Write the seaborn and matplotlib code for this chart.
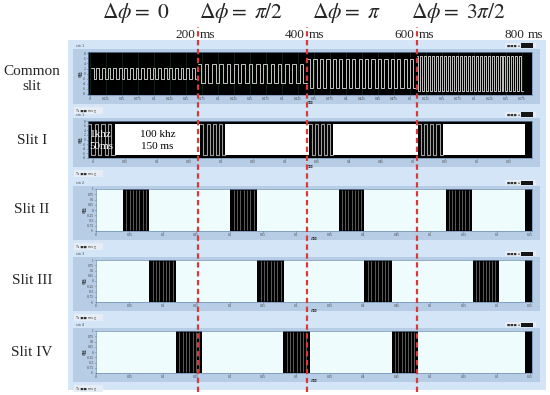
import matplotlib
matplotlib.use("Agg")
import numpy as np
import matplotlib.pyplot as plt
import seaborn as sns
from matplotlib.patches import Rectangle
from matplotlib.transforms import blended_transform_factory

# ---- values ----
phase_labels = [r"$\Delta\phi{=}\ 0$", r"$\Delta\phi{=}\ \pi/2$", r"$\Delta\phi{=}\ \pi$", r"$\Delta\phi{=}\ 3\pi/2$"]
time_marks = [200, 400, 600, 800]          # ms, top axis labels
dashed_at = [200, 400, 600]                # ms, red dashed separators
row_labels = ["Common\nslit", "Slit I", "Slit II", "Slit III", "Slit IV"]

# common slit: square wave, one segment per phase step
common_start = [5, 200, 400, 600]
common_end = [200, 400, 600, 795]
common_amp = [2.1, 3.8, 5.7, 7.0]
common_cycles = [19, 15, 17, 27]

# slit I: 1 kHz bursts (drawn as square wave) and 100 kHz blocks (white)
slit1_slow_start = [0, 205, 403, 602]
slit1_slow_end = [49, 251, 448, 648]
slit1_slow_cycles = 4
slit1_fast_start = [49, 251, 448, 648]
slit1_fast_end = [205, 403, 602, 798]

# slits II-IV: burst windows (ms)
slit2_start = [64, 260, 458, 653, 798]
slit2_end = [112, 309, 505, 701, 813]
slit3_start = [112, 309, 505, 703, 798]
slit3_end = [161, 358, 555, 750, 813]
slit4_start = [161, 357, 555, 798]
slit4_end = [209, 405, 602, 813]

common_yticks = [-8, -6, -4, -2, 0, 2, 4, 6, 8]
slit_yticks = [-1, -0.75, -0.5, -0.25, 0, 0.25, 0.5, 0.75, 1]

# ---- style ----
sns.set_theme(style="white")
plt.rcParams["font.family"] = ["Liberation Serif", "Noto Sans CJK SC", "DejaVu Sans"]
plt.rcParams["mathtext.fontset"] = "stix"

W, H = 550, 395
K = 109.5 / 200.0   # px per ms
X0 = 88             # px of t = 0
RIGHT = 532
RED = "#d83a3a"
PANEL = "#d3e5f7"
FRAME = "#b7cde6"
TINY = 2.4

fig = plt.figure(figsize=(5.5, 3.95), dpi=100)
fig.patch.set_facecolor("white")


def box(x0, y0, x1, y1):
    return [x0 / W, 1 - y1 / H, (x1 - x0) / W, (y1 - y0) / H]


def rect(x0, y0, x1, y1, color, z=-1):
    fig.add_artist(Rectangle((x0 / W, 1 - y1 / H), (x1 - x0) / W, (y1 - y0) / H,
                             transform=fig.transFigure, color=color, lw=0, zorder=z))


def ms(px):
    return (px - X0) / K


def square(a, b, n, amp):
    edges = np.linspace(a, b, 2 * n + 1)
    x = np.repeat(edges, 2)[1:-1]
    lev = np.where(np.arange(2 * n) % 2 == 0, amp, -amp)
    return x, np.repeat(lev, 2)


rect(68, 40, 546, 390, PANEL, z=-3)

layout = [(88, 52, 95), (88, 121, 158), (96, 189, 231), (96, 260, 302), (96, 331, 373)]
axes = []
for i, (left, top, bottom) in enumerate(layout):
    rect(73, top - 3, 540, bottom + 9, FRAME, z=-2)
    rect(74, bottom + 12, 103, bottom + 19, "#e6edf5", z=-1)
    fig.text(76 / W, 1 - (bottom + 15.5) / H, "Ts \u25a0\u25a0 ms \u25af", fontsize=TINY, color="#333333",
             va="center", family="DejaVu Sans")
    rect(505, top - 9, 536, top - 4, "#e6edf5", z=-1)
    rect(521, top - 8.5, 533, top - 4.5, "#151515", z=-0.5)
    fig.text(507 / W, 1 - (top - 6.5) / H, "\u25a0\u25a0\u25a0 \u25ab", fontsize=TINY, color="#333333",
             va="center", family="DejaVu Sans")
    fig.text(76 / W, 1 - (top - 6) / H, "sin %d" % max(i, 1), fontsize=TINY, color="#444444", va="center",
             family="DejaVu Sans")

    ax = fig.add_axes(box(left, top, RIGHT, bottom))
    ax.set_xlim(ms(left), ms(RIGHT))
    for s in ax.spines.values():
        s.set_color("#6d8db0")
        s.set_linewidth(0.5)
    ax.tick_params(labelsize=TINY, length=1, width=0.4, pad=0.6, colors="#333333",
                   left=True, bottom=True)
    axes.append(ax)

# common slit
ax = axes[0]
ax.set_facecolor("black")
ax.set_ylim(-8.6, 8.6)
ax.set_yticks(common_yticks)
ax.set_yticklabels([str(v) for v in common_yticks])
cx = [ms(90 + 16 * j) for j in range(28)]
ax.set_xticks(cx)
ax.set_xticklabels(["%g" % (0.025 * j) for j in range(28)])
ax.grid(True, axis="x", color="#1d3b22", lw=0.4)
for a, b, amp, n in zip(common_start, common_end, common_amp, common_cycles):
    x, y = square(a, b, n, amp)
    sns.lineplot(x=x, y=y, ax=ax, color="#c4c4c4", lw=0.7, sort=False, estimator=None)

# slit I
ax = axes[1]
ax.set_facecolor("black")
ax.set_ylim(-8.2, 8.2)
ax.set_yticks(common_yticks)
ax.set_yticklabels([str(v) for v in common_yticks])
sx = [ms(93 + 32 * j) for j in range(14)]
ax.set_xticks(sx)
ax.set_xticklabels(["%g" % (0.05 * j) for j in range(14)])
for a, b in zip(slit1_fast_start, slit1_fast_end):
    ax.fill_between([a, b], -7, 7, color="white", lw=0)
for a, b in zip(slit1_slow_start, slit1_slow_end):
    x, y = square(a, b, slit1_slow_cycles, 7)
    sns.lineplot(x=x, y=y, ax=ax, color="#9e9e9e", lw=0.8, sort=False, estimator=None)
ax.text(3, 2.3, "1khz", color="white", fontsize=8, va="center", ha="left")
ax.text(3, -3.3, "50ms", color="white", fontsize=8, va="center", ha="left")
ax.text(127, 2.3, "100 khz", color="black", fontsize=8, va="center", ha="center")
ax.text(127, -3.3, "150 ms", color="black", fontsize=8, va="center", ha="center")

# slits II-IV
for ax, starts, ends in zip(axes[2:], [slit2_start, slit3_start, slit4_start],
                            [slit2_end, slit3_end, slit4_end]):
    ax.set_facecolor("#effcfd")
    ax.set_ylim(-1.0, 1.0)
    ax.set_yticks(slit_yticks)
    ax.set_yticklabels(["%g" % v for v in slit_yticks])
    tx = [ms(96 + 33.4 * j) for j in range(14)]
    ax.set_xticks(tx)
    ax.set_xticklabels(["%g" % (0.05 * j) for j in range(14)])
    for a, b in zip(starts, ends):
        ax.axvspan(a, b, color="black", lw=0)
        if b - a > 20:
            ax.vlines(np.linspace(a, b, 9)[1:-1], -0.97, 0.97, color="#8c8c8c", lw=0.45)

for ax in axes:
    ax.set_ylabel("幅值", fontsize=TINY, labelpad=0.5, family="Noto Sans CJK SC")
    ax.set_xlabel("时间", fontsize=TINY, labelpad=0.2, family="Noto Sans CJK SC")

# overlay: dashed separators and time marks
ov = fig.add_axes(box(X0, 27, RIGHT, 392))
ov.set_xlim(ms(X0), ms(RIGHT))
ov.set_ylim(0, 1)
ov.axis("off")
ov.patch.set_alpha(0)
ov.set_zorder(5)
for t in dashed_at:
    ov.axvline(t, color=RED, lw=1.6, ls=(0, (2.4, 1.6)))
tr = blended_transform_factory(ov.transData, fig.transFigure)
for t in time_marks:
    ov.text(t - 3.5, 1 - 35 / H, "%d" % t, transform=tr, ha="right", va="center", fontsize=9.5)
    ov.text(t + 3.5, 1 - 35 / H, "ms", transform=tr, ha="left", va="center", fontsize=9.5)

for lab, xc in zip(phase_labels, [136, 241, 346, 458]):
    fig.text(xc / W, 1 - 13 / H, lab, fontsize=15.5, ha="center", va="center")

for lab, yc in zip(row_labels, [79, 140, 210, 281, 352]):
    fig.text(32 / W, 1 - yc / H, lab, fontsize=11, ha="center", va="center", linespacing=1.15)

fig.savefig("out.png", dpi=100)
